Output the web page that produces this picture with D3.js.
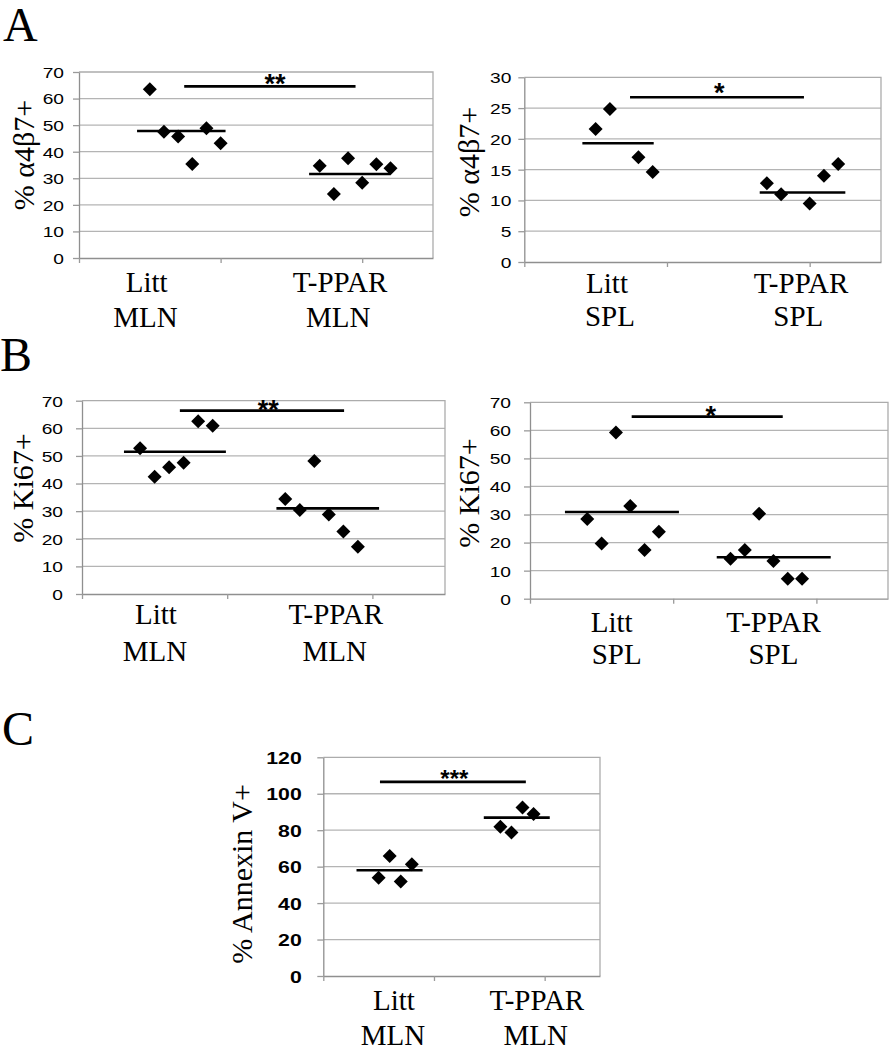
<!DOCTYPE html>
<html><head><meta charset="utf-8">
<script src="https://cdn.jsdelivr.net/npm/d3@7"></script>
<style>
body{margin:0;background:#fff} svg{display:block;background:#fff}
.serif{font-family:"Liberation Serif","Times New Roman","DejaVu Serif",serif}
.sans{font-family:"Liberation Sans",Arial,"DejaVu Sans",sans-serif}
</style>
</head><body><svg id="c" width="890" height="1050"></svg>
<script>
// ---------------- data ----------------
const groups = ["Litt", "T-PPAR"];
const xTicks = [0, 1, 2];

// Panel A left: % α4β7+ , MLN
const a1YLabel = "% α4β7+";
const a1Tissue = "MLN";
const a1Ticks = [0, 10, 20, 30, 40, 50, 60, 70];
const a1LittX = [0.5, 0.6, 0.7, 0.8, 0.9, 1.0];
const a1LittY = [63.5, 47.5, 45.7, 35.4, 48.8, 43.2];
const a1TpparX = [1.7, 1.8, 1.9, 2.0, 2.1, 2.2];
const a1TpparY = [34.7, 24.1, 37.5, 28.3, 35.3, 33.8];
const a1Means = [47.8, 31.6];
const a1MeanSpans = [[0.41, 1.035], [1.625, 2.2]];
const a1Sig = {label: "**", value: 64.6, from: 0.743, to: 1.953};

// Panel A right: % α4β7+ , SPL
const a2YLabel = "% α4β7+";
const a2Tissue = "SPL";
const a2Ticks = [0, 5, 10, 15, 20, 25, 30];
const a2LittX = [0.5, 0.6, 0.8, 0.9];
const a2LittY = [21.6, 24.85, 17.0, 14.6];
const a2TpparX = [1.7, 1.8, 2.0, 2.1, 2.2];
const a2TpparY = [12.8, 11.0, 9.5, 14.0, 15.9];
const a2Means = [19.3, 11.3];
const a2MeanSpans = [[0.407, 0.907], [1.65, 2.25]];
const a2Sig = {label: "*", value: 26.75, from: 0.741, to: 1.96};

// Panel B left: % Ki67+ , MLN
const b1YLabel = "% Ki67+";
const b1Tissue = "MLN";
const b1Ticks = [0, 10, 20, 30, 40, 50, 60, 70];
const b1LittX = [0.4, 0.5, 0.6, 0.7, 0.8, 0.9];
const b1LittY = [52.8, 42.5, 45.9, 47.5, 62.6, 60.9];
const b1TpparX = [1.4, 1.5, 1.6, 1.7, 1.8, 1.9];
const b1TpparY = [34.4, 30.4, 48.2, 28.8, 22.6, 17.1];
const b1Means = [51.5, 31.0];
const b1MeanSpans = [[0.289, 0.991], [1.339, 2.046]];
const b1Sig = {label: "**", value: 66.4, from: 0.674, to: 1.805};

// Panel B right: % Ki67+ , SPL
const b2YLabel = "% Ki67+";
const b2Tissue = "SPL";
const b2Ticks = [0, 10, 20, 30, 40, 50, 60, 70];
const b2LittX = [0.4, 0.5, 0.6, 0.7, 0.8, 0.9];
const b2LittY = [28.4, 19.7, 59.2, 33.0, 17.4, 23.9];
const b2TpparX = [1.4, 1.5, 1.6, 1.7, 1.8, 1.9];
const b2TpparY = [14.2, 17.4, 30.3, 13.4, 7.1, 7.1];
const b2Means = [30.9, 14.8];
const b2MeanSpans = [[0.244, 1.04], [1.304, 2.10]];
const b2Sig = {label: "*", value: 64.9, from: 0.71, to: 1.765};

// Panel C: % Annexin V+ , MLN
const cYLabel = "% Annexin V+";
const cTissue = "MLN";
const cTicks = [0, 20, 40, 60, 80, 100, 120];
const cLittX = [0.5, 0.6, 0.7, 0.8];
const cLittY = [53.9, 65.9, 51.8, 61.3];
const cTpparX = [1.6, 1.7, 1.8, 1.9];
const cTpparY = [81.9, 78.7, 92.4, 88.9];
const cMeans = [58.0, 86.9];
const cMeanSpans = [[0.30, 0.897], [1.45, 2.046]];
const cSig = {label: "***", value: 106.5, from: 0.512, to: 1.83};

const panelLetters = ["A", "B", "C"];

// ---------------- drawing ----------------
const svg = d3.select("#c");

function drawPanel(p) {
  const g = svg.append("g");
  const x = d3.scaleLinear().domain([0, 2.5]).range([p.left, p.right]);
  const y = d3.scaleLinear().domain([0, p.ticks[p.ticks.length - 1]]).range([p.bottom, p.top]);

  // gridlines
  g.selectAll("line.grid").data(p.ticks.slice(1, -1)).join("line")
    .attr("class", "grid")
    .attr("x1", p.left).attr("x2", p.right)
    .attr("y1", d => y(d)).attr("y2", d => y(d))
    .attr("stroke", "#b4b4b4").attr("stroke-width", 1.3);
  // plot border top/right
  g.append("path")
    .attr("d", `M${p.left},${y(p.ticks[p.ticks.length - 1])}H${p.right}V${p.bottom}`)
    .attr("fill", "none").attr("stroke", "#acacac").attr("stroke-width", 1.3);

  // y axis
  const ya = g.append("g").attr("transform", `translate(${p.left},0)`)
    .call(d3.axisLeft(y).tickValues(p.ticks).tickSize(6).tickSizeOuter(0).tickFormat(d3.format("d")));
  ya.attr("font-family", null);
  ya.select(".domain").attr("stroke", "#8f8f8f").attr("stroke-width", 1.3);
  ya.selectAll(".tick line").attr("stroke", "#9a9a9a").attr("stroke-width", 1.3);
  ya.selectAll(".tick text")
    .attr("class", "sans")
    .attr("font-size", p.tickFs)
    .attr("font-weight", p.tickBold ? "bold" : "normal")
    .attr("fill", "#000")
    .attr("x", -p.tickOff / p.tickSx)
    .attr("dy", "0.36em")
    .attr("transform", `scale(${p.tickSx},1)`);

  // x axis
  const xa = g.append("g").attr("transform", `translate(0,${p.bottom})`)
    .call(d3.axisBottom(x).tickValues(xTicks).tickSize(5).tickSizeOuter(0).tickFormat(""));
  xa.select(".domain").attr("stroke", "#8f8f8f").attr("stroke-width", 1.3);
  xa.selectAll(".tick line").attr("stroke", "#9a9a9a").attr("stroke-width", 1.3);

  // points
  const diamond = d3.symbol().type(d3.symbolSquare).size(98)();
  const pts = p.littX.map((v, i) => [v, p.littY[i]])
    .concat(p.tpparX.map((v, i) => [v, p.tpparY[i]]));
  g.selectAll("path.pt").data(pts).join("path")
    .attr("class", "pt").attr("d", diamond)
    .attr("transform", d => `translate(${x(d[0])},${y(d[1])}) rotate(45)`)
    .attr("fill", "#000");

  // mean lines
  g.selectAll("line.mean").data(p.means).join("line")
    .attr("class", "mean")
    .attr("x1", (d, i) => x(p.meanSpans[i][0])).attr("x2", (d, i) => x(p.meanSpans[i][1]))
    .attr("y1", d => y(d)).attr("y2", d => y(d))
    .attr("stroke", "#000").attr("stroke-width", 2.6);

  // significance bar
  g.append("line")
    .attr("x1", x(p.sig.from)).attr("x2", x(p.sig.to))
    .attr("y1", y(p.sig.value)).attr("y2", y(p.sig.value))
    .attr("stroke", "#000").attr("stroke-width", 2.6);
  g.append("text")
    .attr("class", "sans")
    .attr("x", x(p.starX)).attr("y", y(p.sig.value) + p.starDy)
    .attr("text-anchor", "middle")
    .attr("font-weight", "bold").attr("font-size", p.starFs)
    .attr("fill", "#000")
    .text(p.sig.label);

  // y label
  g.append("text")
    .attr("class", "serif")
    .attr("transform", `translate(${p.ylx},${p.yly}) rotate(-90)`)
    .attr("text-anchor", "middle").attr("dominant-baseline", "central")
    .attr("font-size", p.ylFs).attr("fill", "#000")
    .text(p.yLabel);

  // category labels
  groups.forEach((grp, i) => {
    g.append("text").attr("class", "serif")
      .attr("x", x(p.catX[i][0])).attr("y", p.bottom + p.catDy[0])
      .attr("text-anchor", "middle").attr("font-size", 29).attr("fill", "#000")
      .text(grp);
    g.append("text").attr("class", "serif")
      .attr("x", x(p.catX[i][1])).attr("y", p.bottom + p.catDy[1])
      .attr("text-anchor", "middle").attr("font-size", 29).attr("fill", "#000")
      .text(p.tissue);
  });
}

const AB = {tickFs: 15, tickBold: false, tickSx: 1.28, starFs: 27, ylFs: 30};

drawPanel(Object.assign({}, AB, {
  left: 79, right: 433, top: 72, bottom: 258, ticks: a1Ticks, tickOff: 15,
  littX: a1LittX, littY: a1LittY, tpparX: a1TpparX, tpparY: a1TpparY,
  means: a1Means, meanSpans: a1MeanSpans, sig: a1Sig, starX: 1.384, starDy: 7,
  yLabel: a1YLabel, ylx: 23, yly: 155, tissue: a1Tissue,
  catX: [[0.478, 0.47], [1.843, 1.83]], catDy: [34, 69]
}));
drawPanel(Object.assign({}, AB, {
  left: 524.3, right: 881, top: 77.3, bottom: 262, ticks: a2Ticks, tickOff: 13,
  littX: a2LittX, littY: a2LittY, tpparX: a2TpparX, tpparY: a2TpparY,
  means: a2Means, meanSpans: a2MeanSpans, sig: a2Sig, starX: 1.367, starDy: 5,
  yLabel: a2YLabel, ylx: 468, yly: 162, tissue: a2Tissue,
  catX: [[0.58, 0.6], [1.94, 1.92]], catDy: [31, 64]
}));
drawPanel(Object.assign({}, AB, {
  left: 82, right: 445, top: 400.7, bottom: 594, ticks: b1Ticks, tickOff: 19,
  littX: b1LittX, littY: b1LittY, tpparX: b1TpparX, tpparY: b1TpparY,
  means: b1Means, meanSpans: b1MeanSpans, sig: b1Sig, starX: 1.282, starDy: 8.5,
  yLabel: b1YLabel, ylx: 22, yly: 488, tissue: b1Tissue,
  catX: [[0.509, 0.502], [1.748, 1.741]], catDy: [30, 67]
}));
drawPanel(Object.assign({}, AB, {
  left: 530, right: 888, top: 402.3, bottom: 598.7, ticks: b2Ticks, tickOff: 19,
  littX: b2LittX, littY: b2LittY, tpparX: b2TpparX, tpparY: b2TpparY,
  means: b2Means, meanSpans: b2MeanSpans, sig: b2Sig, starX: 1.263, starDy: 8,
  yLabel: b2YLabel, ylx: 468, yly: 493, tissue: b2Tissue,
  catX: [[0.57, 0.605], [1.70, 1.70]], catDy: [33, 65]
}));
drawPanel({
  tickFs: 17, tickBold: true, tickSx: 1.25, starFs: 24, ylFs: 30,
  left: 323.3, right: 600, top: 757.3, bottom: 976, ticks: cTicks, tickOff: 21.6,
  littX: cLittX, littY: cLittY, tpparX: cTpparX, tpparY: cTpparY,
  means: cMeans, meanSpans: cMeanSpans, sig: cSig, starX: 1.184, starDy: 5,
  yLabel: cYLabel, ylx: 241, yly: 874, tissue: cTissue,
  catX: [[0.638, 0.63], [1.93, 1.92]], catDy: [34, 69]
});

// panel letters
const letterPos = [[3, 41], [0, 371], [2, 745]];
svg.selectAll("text.letter").data(panelLetters).join("text")
  .attr("class", "letter serif")
  .attr("x", (d, i) => letterPos[i][0]).attr("y", (d, i) => letterPos[i][1])
  .attr("font-size", 48).attr("fill", "#000")
  .text(d => d);
</script>
</body></html>
